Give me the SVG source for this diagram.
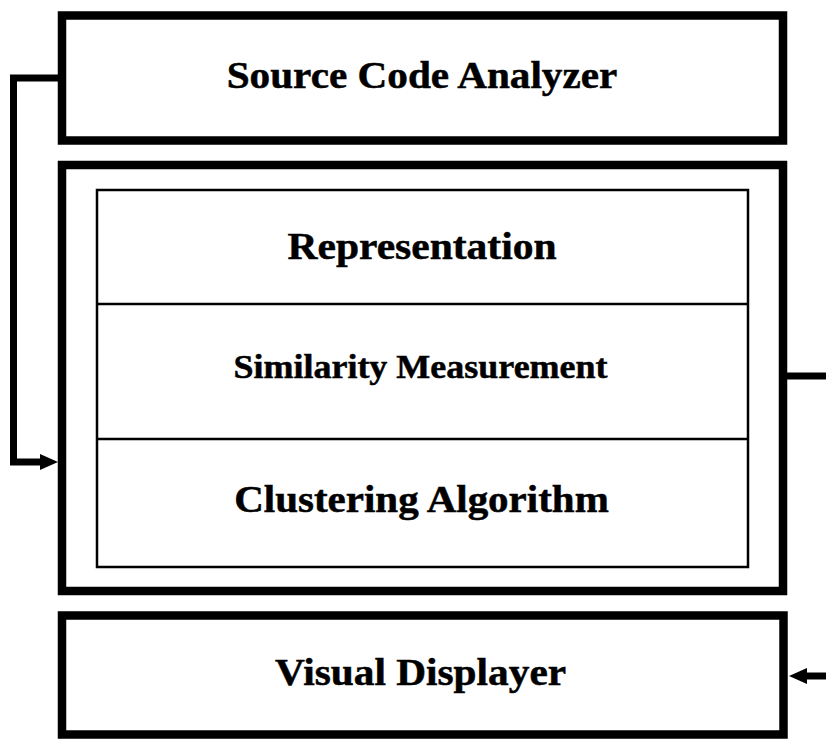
<svg xmlns="http://www.w3.org/2000/svg" width="826" height="739" viewBox="0 0 826 739">
  <style>
    .frame { fill: #fff; stroke: #000; stroke-width: 8.5; }
    .inner { fill: none; stroke: #000; stroke-width: 2.5; }
    .wire { fill: none; stroke: #000; stroke-width: 7; }
    .head { fill: #000; stroke: none; }
    .label { font-family: "Liberation Serif", "Times New Roman", serif; font-weight: bold; fill: #000; stroke: #000; stroke-width: 0.5; text-anchor: middle; }
  </style>
  <rect width="826" height="739" fill="#fff"/>

  <g id="source-code-analyzer">
    <rect class="frame" x="62" y="15.5" width="721" height="125"/>
    <text class="label" font-size="39" transform="translate(422,88) scale(1.057,1)">Source Code Analyzer</text>
  </g>

  <g id="clustering-core">
    <rect class="frame" x="62" y="165" width="721" height="426"/>
    <rect class="inner" x="97" y="190" width="651" height="377"/>
    <line class="inner" x1="97" y1="304" x2="748" y2="304"/>
    <line class="inner" x1="97" y1="439" x2="748" y2="439"/>
  </g>

  <g id="representation">
    <text class="label" font-size="39" transform="translate(422,259) scale(1.065,1)">Representation</text>
  </g>

  <g id="similarity-measurement">
    <text class="label" font-size="34" transform="translate(420.5,378) scale(1.059,1)">Similarity Measurement</text>
  </g>

  <g id="clustering-algorithm">
    <text class="label" font-size="38" transform="translate(421.5,512) scale(1.079,1)">Clustering Algorithm</text>
  </g>

  <g id="visual-displayer">
    <rect class="frame" x="62" y="615.5" width="721.5" height="119"/>
    <text class="label" font-size="38" transform="translate(420.5,685) scale(1.088,1)">Visual Displayer</text>
  </g>

  <g id="connectors">
    <path class="wire" d="M58,78 H13.5 V462 H42"/>
    <polygon class="head" points="58,462 40,454 40,470"/>
    <line class="wire" x1="787" y1="376" x2="826" y2="376"/>
    <line class="wire" x1="805" y1="676" x2="826" y2="676"/>
    <polygon class="head" points="789,676 807,668 807,684"/>
  </g>
</svg>
